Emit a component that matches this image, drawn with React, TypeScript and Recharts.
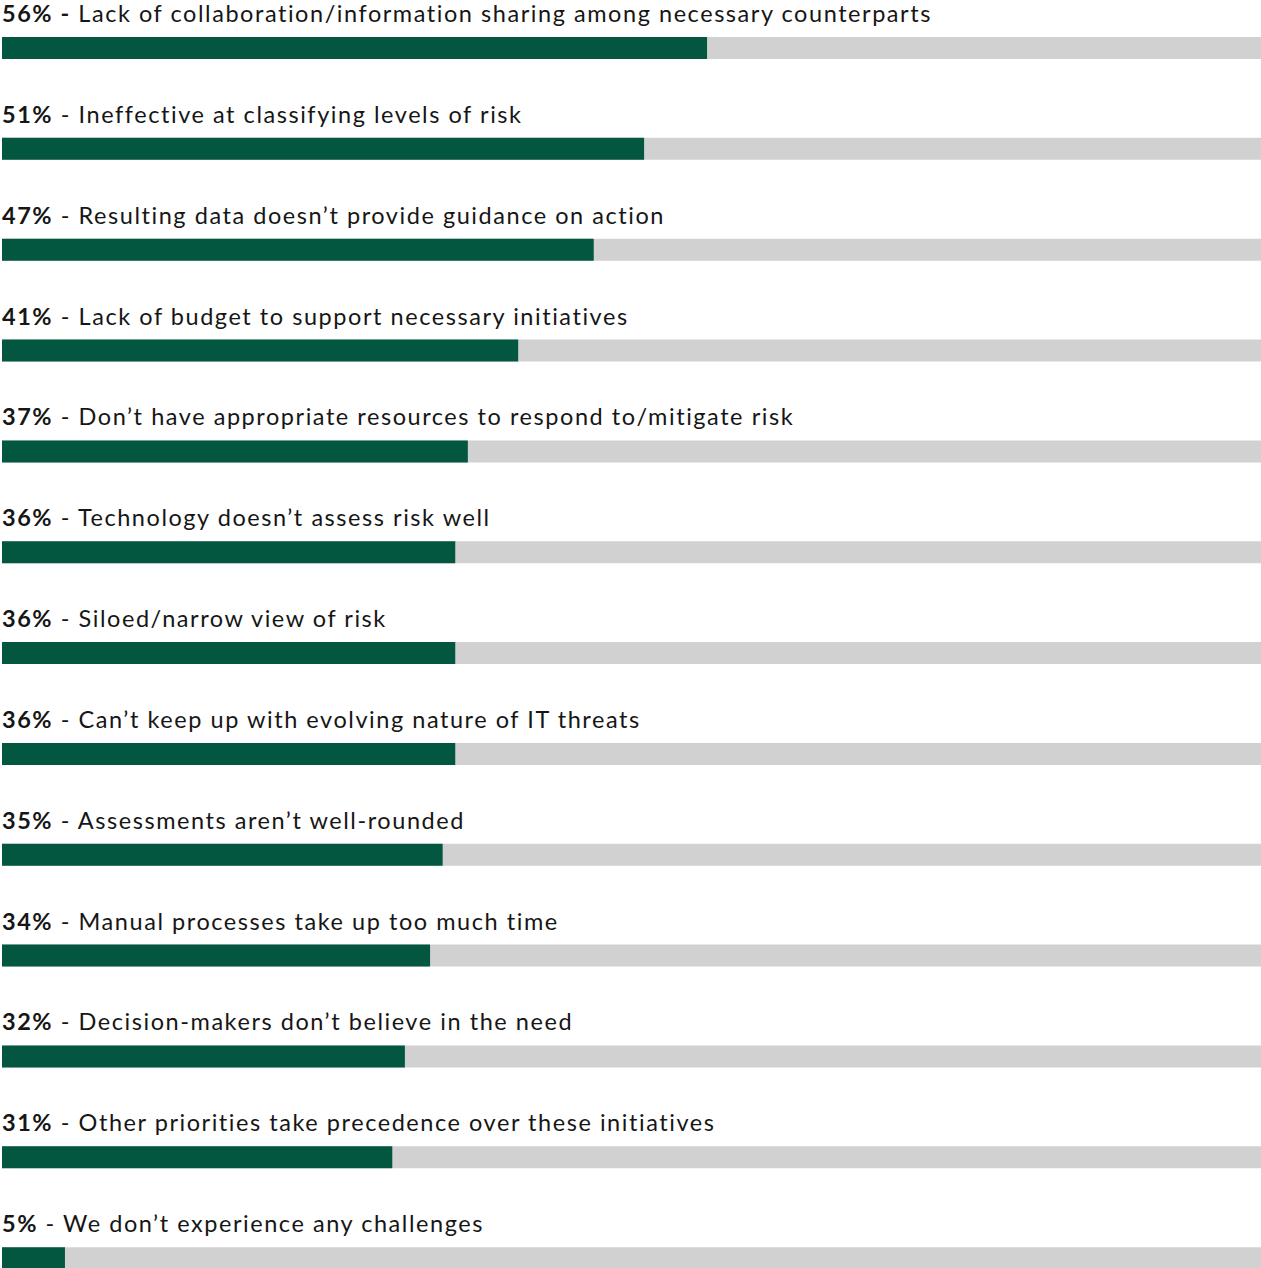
import { BarChart, Bar, XAxis, YAxis, LabelList } from 'recharts';

const challenges = [
  'Lack of collaboration/information sharing among necessary counterparts',
  'Ineffective at classifying levels of risk',
  'Resulting data doesn\u2019t provide guidance on action',
  'Lack of budget to support necessary initiatives',
  'Don\u2019t have appropriate resources to respond to/mitigate risk',
  'Technology doesn\u2019t assess risk well',
  'Siloed/narrow view of risk',
  'Can\u2019t keep up with evolving nature of IT threats',
  'Assessments aren\u2019t well-rounded',
  'Manual processes take up too much time',
  'Decision-makers don\u2019t believe in the need',
  'Other priorities take precedence over these initiatives',
  'We don\u2019t experience any challenges',
];

const percents = [56, 51, 47, 41, 37, 36, 36, 36, 35, 34, 32, 31, 5];

const chartData = challenges.map((name, i) => ({ name, value: percents[i] }));

const GREEN = '#03563f';
const TRACK = '#d1d1d1';
const FONT = 'Lato, "Open Sans", sans-serif';

// label sits above each bar: bold percentage, then the description
const RowLabel = (props: any) => {
  const { x, y, index } = props;
  const boldDash = index === 0;
  return (
    <text
      x={x}
      y={y - 15}
      fontFamily={FONT}
      fontSize={23.5}
      letterSpacing={1.55}
      fill="#161616"
    >
      <tspan fontWeight={700}>{`${percents[index]}%`}</tspan>
      <tspan fontWeight={boldDash ? 700 : 400}>{' -'}</tspan>
      <tspan fontWeight={400}>{` ${challenges[index]}`}</tspan>
    </text>
  );
};

export default function App() {
  return (
    <div
      style={{
        position: 'absolute',
        left: 0,
        top: 0,
        width: 1261,
        height: 1268,
        overflow: 'hidden',
        background: '#fff',
      }}
    >
      <div style={{ position: 'relative', top: -2.4 }}>
        <BarChart
          width={1261}
          height={1311}
          data={chartData}
          layout="vertical"
          margin={{ top: 0, right: 0, left: 2, bottom: 0 }}
        >
          <XAxis type="number" domain={[0, 100]} hide />
          <YAxis type="category" dataKey="name" hide />
          <Bar
            dataKey="value"
            fill={GREEN}
            barSize={22}
            background={{ fill: TRACK }}
            isAnimationActive={false}
          >
            <LabelList dataKey="value" content={<RowLabel />} />
          </Bar>
        </BarChart>
      </div>
    </div>
  );
}
